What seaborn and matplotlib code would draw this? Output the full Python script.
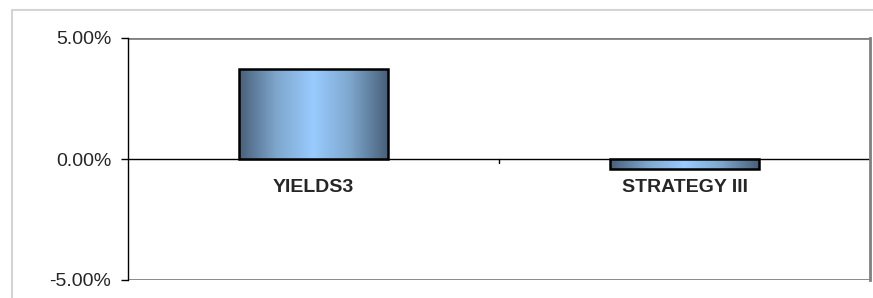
import numpy as np
import pandas as pd
import seaborn as sns
import matplotlib.pyplot as plt
from matplotlib.colors import LinearSegmentedColormap
from matplotlib.patches import Rectangle
from matplotlib.transforms import offset_copy

categories = ["YIELDS3", "STRATEGY III"]
returns = [0.0372, -0.0040]
yticks = [-0.05, 0.0, 0.05]
ytick_labels = ["-5.00%", "0.00%", "5.00%"]

df = pd.DataFrame({"category": categories, "ret": returns})

sns.set_style("white")
plt.rcParams["font.family"] = ["Liberation Sans", "DejaVu Sans"]

fig = plt.figure(figsize=(8.73, 2.98), dpi=100)
W, H = 873, 298
ax = fig.add_axes([128 / W, 1 - 280 / H, (870 - 128) / W, (280 - 38) / H])

# outer chart frame (runs off the right and bottom edges)
fig.patches.append(Rectangle((12 / W, -0.1), 1.2, 1.1 - 10 / H, transform=fig.transFigure,
                             fill=False, edgecolor="#d4d4d4", linewidth=1.5))

sns.barplot(data=df, x="category", y="ret", ax=ax, width=0.4,
            color="#99ccff", edgecolor="black", linewidth=1.8, zorder=3)

# horizontal metallic gradient on each bar
grad_cmap = LinearSegmentedColormap.from_list(
    "steel", ["#48607a", "#7ea6cc", "#99ccff", "#7ea6cc", "#48607a"])
grad = np.linspace(0, 1, 256).reshape(1, -1)
for bar in ax.patches:
    x0, y0 = bar.get_x(), bar.get_y()
    w, h = bar.get_width(), bar.get_height()
    im = ax.imshow(grad, cmap=grad_cmap, aspect="auto", zorder=3.5,
                   extent=[x0, x0 + w, min(y0, y0 + h), max(y0, y0 + h)])
    im.set_clip_path(bar)
    bar.set_facecolor("none")
    bar.set_zorder(4)

ax.set_xlim(-0.5, 1.5)
ax.set_ylim(-0.05, 0.05)
ax.set_yticks(yticks)
ax.set_yticklabels(ytick_labels, fontsize=14)
ax.tick_params(axis="y", direction="out", length=5, width=1, color="black", pad=7, left=True)
ax.set_xticks([])
ax.set_xlabel("")
ax.set_ylabel("")

# gridlines at +/-5% and the zero line
ax.axhline(0.05, color="#808080", linewidth=2, zorder=1)
ax.axhline(-0.05, color="#808080", linewidth=2, zorder=1)
ax.axhline(0, color="black", linewidth=1, zorder=2)
ax.plot([0.5, 0.5], [0, -0.0017], color="black", linewidth=1, zorder=2)

for side in ["top", "bottom"]:
    ax.spines[side].set_visible(False)
ax.spines["right"].set_color("#808080")
ax.spines["right"].set_linewidth(2)
ax.spines["left"].set_color("black")
ax.spines["left"].set_linewidth(1)

# category labels sit just under the zero line
lab_tr = offset_copy(ax.transData, fig=fig, x=0, y=-20.5, units="points")
for i, name in enumerate(categories):
    ax.text(i, 0, name, transform=lab_tr, ha="center", va="center",
            fontsize=14, fontweight="bold")

fig.savefig("out.png", dpi=100)
